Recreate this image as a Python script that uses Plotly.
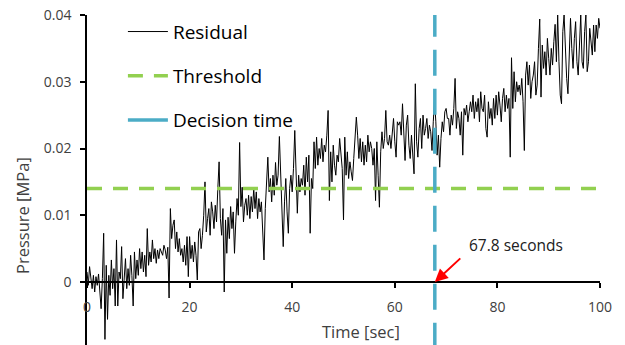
import plotly.graph_objects as go

# ---------------- data ----------------
time_step = 0.25  # seconds between residual samples
residual_kpa = [
    1.5, -0.5, 2.3, 0.5,   -1.0, 1.0, -1.5, 0.8,   -0.5, 1.2, -2.0, -4.0,
    0.5, 7.3, -8.6, 2.5,   -5.6, 1.0, -2.0, 3.3,   -1.0, 2.0, -3.6, 6.3,
    -3.6, 1.5, 0.5, 5.3,   -2.5, 0.5, 3.5, -1.0,   2.0, -0.5, 4.0, 1.0,
    -3.6, 4.5, 0.5, 3.3,   1.0, 5.0, 2.0, 4.5,     1.5, 4.0, 0.8, 8.0,
    2.5, 4.5, 3.0, 6.3,    3.5, 5.0, 2.8, 4.8,     3.5, 5.0, 4.6, 4.0,
    5.5, 4.8, 3.5, 5.2,    -2.4, 11.0, 6.5, 8.5,   9.3, 5.0, 7.5, 4.5,
    6.5, 4.0, 5.0, 3.0,    5.5, 2.5, 6.8, 0.8,     6.8, 3.5, 5.5, 3.0,
    6.0, 4.0, 0.3, 7.5,    8.0, 5.0, 7.0, 10.0,    15.0, 7.5, 9.5, 11.0,
    7.0, 12.0, 10.5, 8.0,  11.5, 9.0, 14.0, 18.0,  9.5, 7.0, 11.0, -1.5,
    9.3, 4.3, 9.7, 6.5,    11.3, 8.0, 10.5, 4.3,   9.0, 12.5, 10.0, 20.9,
    11.3, 14.2, 9.0, 11.5, 12.5, 10.0, 13.0, 9.5,  12.8, 10.5, 14.0, 11.0,
    13.5, 9.5, 12.5, 10.5, 12.0, 8.0, 3.3, 11.0,   14.0, 18.7, 13.5, 15.5,
    12.0, 16.0, 13.0, 17.9, 14.5, 16.0, 21.8, 15.0, 9.5, 5.3, 12.0, 15.5,
    10.5, 7.3, 14.0, 16.0, 13.5, 17.0, 22.7, 14.0, 10.3, 16.0, 13.5, 15.5,
    14.5, 17.5, 13.0, 18.7, 15.0, 19.0, 7.3, 15.5, 14.0, 21.0, 17.0, 21.7,
    17.5, 20.0, 18.5, 21.5, 18.0, 20.5, 19.5, 22.0, 25.7, 12.2, 19.5, 15.0,
    20.5, 17.5, 16.0, 19.0, 18.0, 21.5, 19.5, 17.0, 9.3, 21.7, 16.0, 19.5,
    15.5, 18.0, 16.5, 15.2, 18.5, 21.0, 24.7, 22.0, 18.5, 21.5, 18.0, 21.0,
    17.5, 20.5, 18.0, 22.0, 19.5, 21.0, 20.0, 17.5, 20.0, 12.2, 21.0, 16.0,
    11.2, 19.5, 22.5, 20.0, 21.5, 25.7, 21.0, 20.5, 22.0, 20.0, 23.0, 24.5,
    21.0, 18.7, 24.0, 23.5, 24.0, 22.0, 26.7, 21.5, 18.2, 23.5, 25.0, 20.5,
    18.5, 22.0, 19.0, 16.2, 29.7, 21.0, 18.7, 23.0, 24.5, 20.0, 25.0, 22.0,
    23.0, 24.5, 21.5, 23.5, 22.5, 19.7, 24.0, 27.2, 24.0, 19.0, 22.0, 17.2,
    21.5, 24.0, 22.5, 25.5, 26.0, 24.5, 24.5, 22.0, 25.0, 23.5, 26.0, 30.5,
    23.0, 25.5, 24.5, 22.0, 25.5, 19.0, 26.0, 25.0, 26.5, 24.0, 25.5, 27.0,
    25.5, 28.0, 24.5, 27.0, 25.5, 27.5, 24.0, 28.5, 26.0, 25.5, 28.0, 23.0,
    21.7, 27.0, 24.5, 26.0, 23.5, 27.5, 24.5, 28.0, 25.0, 28.5, 26.5, 24.0,
    27.5, 29.0, 25.5, 28.0, 26.0, 27.5, 18.7, 33.6, 26.0, 31.5, 27.0, 30.0,
    28.5, 29.5, 28.0, 30.5, 27.0, 19.7, 31.0, 33.0, 29.5, 32.5, 27.5, 30.0,
    31.0, 33.0, 28.0, 29.5, 35.0, 39.4, 27.7, 35.5, 32.0, 34.5, 31.0, 36.5,
    33.5, 31.0, 35.0, 32.5, 36.0, 38.6, 33.0, 40.0, 33.0, 28.0, 26.7, 37.5,
    40.0, 34.5, 30.5, 28.2, 34.5, 39.5, 35.0, 32.0, 36.5, 39.0, 33.0, 31.0,
    35.5, 40.0, 33.0, 32.0, 37.5, 40.0, 31.5, 33.0, 38.0, 36.0, 34.0, 38.5,
    34.5, 38.5, 36.5, 39.5, 38.0,
]
threshold_mpa = 0.014
decision_time_sec = 67.8
x_range = [0, 100]
y_range = [-0.00944, 0.04]
x_tickvals = [0, 20, 40, 60, 80, 100]
y_tickvals = [0, 0.01, 0.02, 0.03, 0.04]
y_tick_text = ["0", "0.01", "0.02", "0.03", "0.04"]
hidden_tick_label = "-0.01"
hidden_tick_value = -0.01

time_sec = [i * time_step for i in range(len(residual_kpa))]
residual_mpa = [v / 1000.0 for v in residual_kpa]

FONT = "'Open Sans', 'Noto Sans', sans-serif"
TXT = "#404040"
GREEN = "#92D050"
BLUE = "#4BACC6"

fig = go.Figure()
fig.add_trace(go.Scatter(
    x=time_sec, y=residual_mpa, mode="lines", name="Residual",
    line=dict(color="black", width=1), legendgroup="a",
))
fig.add_trace(go.Scatter(
    x=x_range, y=[threshold_mpa, threshold_mpa], mode="lines", name="Threshold",
    line=dict(color=GREEN, width=3.5, dash="15px,11px"), legendgroup="b",
))
# the decision-time line itself is dashed, its legend sample is solid
fig.add_trace(go.Scatter(
    x=[decision_time_sec, decision_time_sec], y=[hidden_tick_value, y_tickvals[-1]],
    mode="lines", name="Decision time", showlegend=False,
    line=dict(color=BLUE, width=3.5, dash="26px,13px"), legendgroup="c",
))
fig.add_trace(go.Scatter(
    x=[None], y=[None], mode="lines", name="Decision time",
    line=dict(color=BLUE, width=3.5), legendgroup="c",
))

W, H = 625, 345
ml, mr, mt, mb = 87, 25, 15, 0
plot_w = W - ml - mr
plot_h = H - mt - mb
zero_frac = (0 - y_range[0]) / (y_range[1] - y_range[0])

fig.update_layout(
    width=W, height=H,
    margin=dict(l=ml, r=mr, t=mt, b=mb, pad=0),
    paper_bgcolor="white", plot_bgcolor="white",
    font=dict(family=FONT, size=14, color=TXT),
    showlegend=True,
    legend=dict(
        x=0.07, y=1.007, xanchor="left", yanchor="top",
        font=dict(family=FONT, size=19, color="black"),
        bgcolor="rgba(0,0,0,0)", tracegroupgap=16.5, traceorder="grouped",
        itemwidth=40,
    ),
    xaxis=dict(
        range=x_range, tickvals=x_tickvals, showgrid=False, zeroline=False,
        showline=True, linecolor="black", linewidth=1.5,
        ticks="outside", ticklen=5, tickcolor="black", tickwidth=1.5,
        anchor="free", position=zero_frac,
        tickfont=dict(family=FONT, size=14, color=TXT),
        ticklabelstandoff=7,
    ),
    yaxis=dict(
        range=y_range, tickvals=y_tickvals, ticktext=y_tick_text,
        showgrid=False, zeroline=False,
        showline=True, linecolor="black", linewidth=1.5,
        ticks="outside", ticklen=5, tickcolor="black", tickwidth=1.5,
        tickfont=dict(family=FONT, size=14, color=TXT),
        ticklabelstandoff=6,
    ),
)

annotations = [
    dict(text="Time [sec]", xref="paper", yref="paper",
         x=(361 - ml) / plot_w, y=(H - 331) / plot_h,
         showarrow=False, font=dict(family=FONT, size=16.5, color=TXT),
         xanchor="center", yanchor="middle"),
    dict(text="Pressure [MPa]", xref="paper", yref="paper",
         x=(22 - ml) / plot_w, y=(H - 216) / plot_h, textangle=-90,
         showarrow=False, font=dict(family=FONT, size=16.5, color=TXT),
         xanchor="center", yanchor="middle"),
    dict(text=hidden_tick_label, xref="paper", yref="y",
         x=(73 - ml) / plot_w, y=hidden_tick_value,
         showarrow=False, font=dict(family=FONT, size=14, color=TXT),
         xanchor="right", yanchor="middle"),
    dict(text="", x=decision_time_sec, y=0, xref="x", yref="y",
         showarrow=True, arrowhead=2, arrowsize=1.3, arrowwidth=2,
         arrowcolor="#FF0000", ax=27, ay=-25, standoff=0),
    dict(text=f"{decision_time_sec} seconds", xref="x", yref="y",
         x=decision_time_sec + (516 - 435) / 5.13, y=(282 - 245) / 6675,
         showarrow=False, font=dict(family=FONT, size=15.5, color="#202020"),
         xanchor="center", yanchor="middle"),
]
fig.update_layout(annotations=annotations)

fig.write_html(
    "out.html",
    config={"displayModeBar": False},
    post_script="document.body.style.margin='0px';document.body.style.overflow='hidden';",
)
